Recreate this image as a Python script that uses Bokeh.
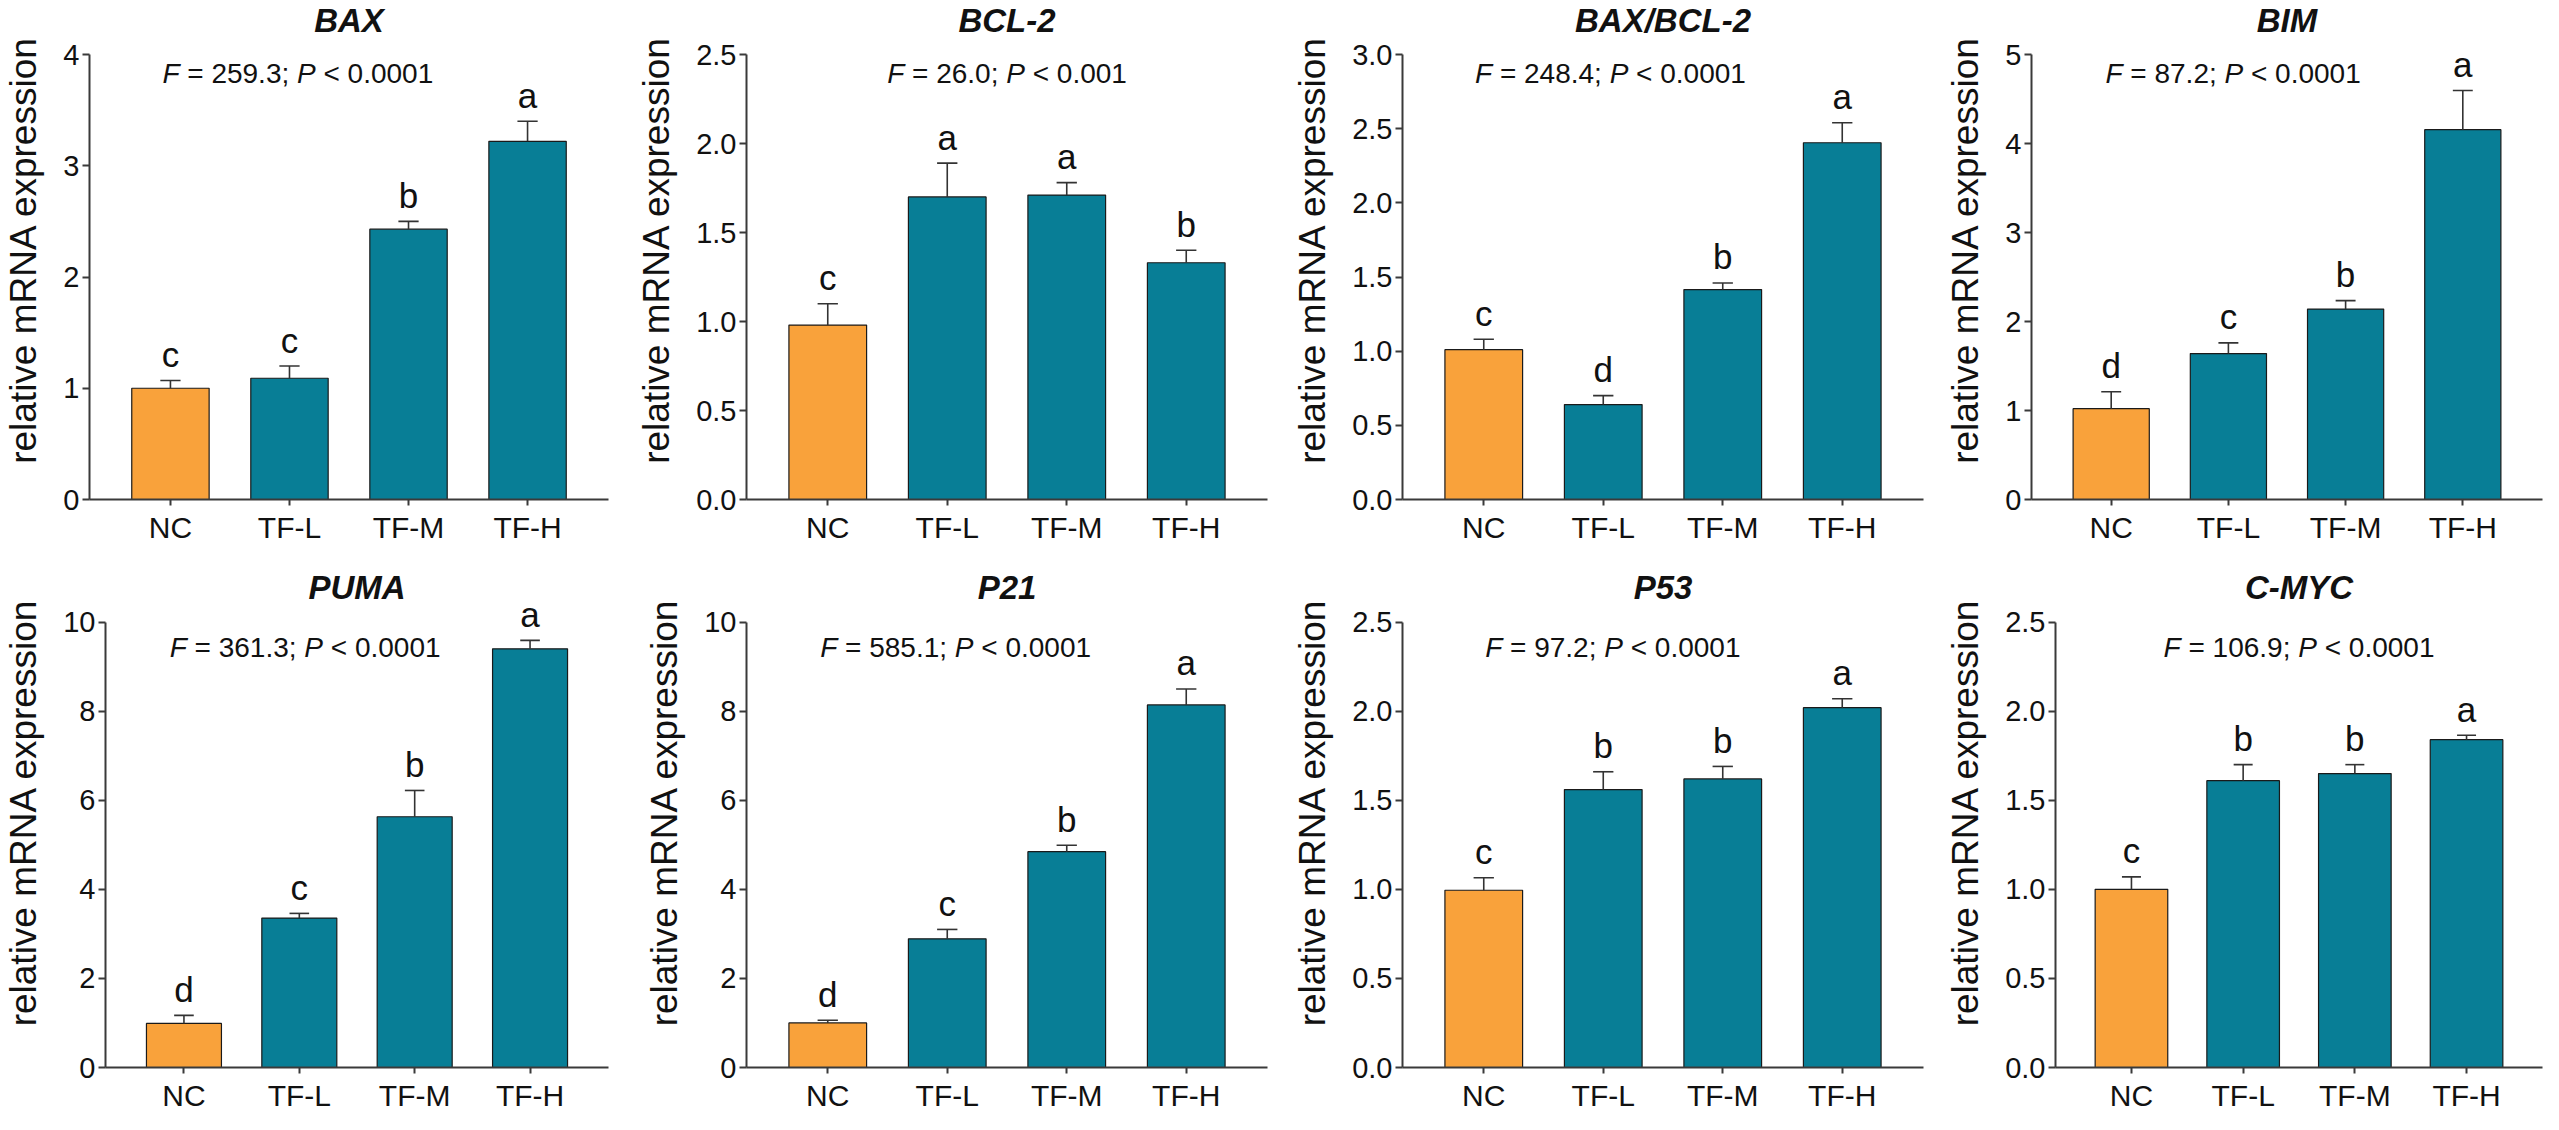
from bokeh.plotting import figure
from bokeh.models import Range1d, FixedTicker, Label, PrintfTickFormatter
from bokeh.layouts import row, column
from bokeh.embed import file_html
from bokeh.resources import INLINE

# ---------------- data ----------------
groups = ["NC", "TF-L", "TF-M", "TF-H"]
genes = ["BAX", "BCL-2", "BAX/BCL-2", "BIM", "PUMA", "P21", "P53", "C-MYC"]

bax_mean = [1.00, 1.09, 2.43, 3.22]
bax_sem = [0.07, 0.11, 0.07, 0.18]
bcl2_mean = [0.98, 1.70, 1.71, 1.33]
bcl2_sem = [0.12, 0.19, 0.07, 0.07]
ratio_mean = [1.01, 0.64, 1.415, 2.405]
ratio_sem = [0.07, 0.06, 0.045, 0.135]
bim_mean = [1.02, 1.64, 2.14, 4.155]
bim_sem = [0.19, 0.12, 0.095, 0.44]
puma_mean = [0.99, 3.355, 5.63, 9.40]
puma_sem = [0.18, 0.105, 0.59, 0.19]
p21_mean = [1.00, 2.89, 4.845, 8.14]
p21_sem = [0.06, 0.21, 0.145, 0.36]
p53_mean = [0.995, 1.56, 1.62, 2.02]
p53_sem = [0.07, 0.10, 0.07, 0.05]
cmyc_mean = [1.00, 1.61, 1.65, 1.84]
cmyc_sem = [0.07, 0.09, 0.05, 0.025]

letters = [
    ["c", "c", "b", "a"],
    ["c", "a", "a", "b"],
    ["c", "d", "b", "a"],
    ["d", "c", "b", "a"],
    ["d", "c", "b", "a"],
    ["d", "c", "b", "a"],
    ["c", "b", "b", "a"],
    ["c", "b", "b", "a"],
]
f_values = ["259.3", "26.0", "248.4", "87.2", "361.3", "585.1", "97.2", "106.9"]
p_values = ["0.0001", "0.001", "0.0001", "0.0001", "0.0001", "0.0001", "0.0001", "0.0001"]
f_xcenter = [1.07, 1.5, 1.06, 1.04, 1.05, 1.07, 1.08, 1.5]
y_max = [4, 2.5, 3.0, 5, 10, 10, 2.5, 2.5]
y_step = [1, 0.5, 0.5, 1, 2, 2, 0.5, 0.5]
y_fmt = ["%d", "%.1f", "%.1f", "%d", "%d", "%d", "%.1f", "%.1f"]

means = [bax_mean, bcl2_mean, ratio_mean, bim_mean, puma_mean, p21_mean, p53_mean, cmyc_mean]
sems = [bax_sem, bcl2_sem, ratio_sem, bim_sem, puma_sem, p21_sem, p53_sem, cmyc_sem]

# ---------------- style ----------------
FONT = "Liberation Sans"
ORANGE = "#F9A23B"
TEAL = "#087E96"
AXIS = "#3a3a3a"

# Arial / Liberation Sans advance widths (1/1000 em)
WID = {" ": 278, "=": 584, "<": 584, ".": 278, ";": 278, "F": 611, "P": 667}


def text_width(s, size):
    return sum(WID.get(c, 556) for c in s) * size / 1000.0


# (figure width, border left, border right)
col_cfg = [(632, 87, 24), (657, 114, 22), (653, 113, 19), (601, 80, 1)]
# (figure height, border top, axis-top offset below frame top, border bottom, F-text offset)
row_cfg = [(555, 0, 54, 56, -19), (559, 2, 65, 44, -25)]

xs = [0, 1, 2, 3]


def make_panel(i):
    r, c = divmod(i, 4)
    fw, bl, br = col_cfg[c]
    fh, bt, gap, bb, f_off = row_cfg[r]
    ymax = y_max[i]
    frame_h = fh - bt - bb
    axis_h = frame_h - gap
    yend = ymax * frame_h / axis_h
    p = figure(width=fw, height=fh, x_range=Range1d(-0.68, 3.68), y_range=Range1d(0, yend),
               output_backend="svg", toolbar_location=None,
               min_border_left=bl, min_border_right=br, min_border_top=bt, min_border_bottom=bb)
    p.outline_line_color = None
    p.grid.visible = False
    p.background_fill_color = "white"
    p.border_fill_color = "white"

    m = means[i]
    s = sems[i]
    tops = [a + b for a, b in zip(m, s)]
    colors = [ORANGE, TEAL, TEAL, TEAL]
    p.vbar(x=xs, top=m, bottom=0, width=0.65, fill_color=colors, line_color="#1a1a1a", line_width=1.2)
    p.segment(x0=xs, y0=m, x1=xs, y1=tops, line_color="#333333", line_width=1.6)
    p.segment(x0=[x - 0.085 for x in xs], y0=tops, x1=[x + 0.085 for x in xs], y1=tops,
              line_color="#333333", line_width=1.6)

    for x, t, lab in zip(xs, tops, letters[i]):
        p.add_layout(Label(x=x, y=t, y_offset=26, text=lab, text_align="center",
                           text_baseline="middle", text_font=FONT, text_font_size="35px",
                           text_color="#111111"))

    # gene title
    p.add_layout(Label(x=1.5, y=ymax, y_offset=34.5, text=genes[i], text_align="center",
                       text_baseline="middle", text_font=FONT, text_font_size="33px",
                       text_font_style="bold italic", text_color="#111111"))

    # F / P statistic line with italic F and P (spaces handled as offsets)
    fs = 28
    pieces = [("F", "italic", " "), ("= " + f_values[i] + ";", "normal", " "), ("P", "italic", " "),
              ("< " + p_values[i], "normal", "")]
    total = sum(text_width(t + tail, fs) for t, _, tail in pieces)
    off = -total / 2.0
    for t, st, tail in pieces:
        p.add_layout(Label(x=f_xcenter[i], y=ymax, x_offset=off, y_offset=f_off, text=t,
                           text_align="left", text_baseline="middle", text_font=FONT,
                           text_font_size="%dpx" % fs, text_font_style=st, text_color="#111111"))
        off += text_width(t + tail, fs)

    # axes
    p.xaxis.ticker = FixedTicker(ticks=xs)
    p.xaxis.major_label_overrides = {x: g for x, g in zip(xs, groups)}
    p.yaxis.ticker = FixedTicker(ticks=[k * y_step[i] for k in range(int(round(ymax / y_step[i])) + 1)])
    p.yaxis.formatter = PrintfTickFormatter(format=y_fmt[i])
    p.yaxis.bounds = (0, ymax)
    p.yaxis.axis_label = "relative mRNA expression"
    for ax in (p.xaxis, p.yaxis):
        ax.axis_line_color = AXIS
        ax.axis_line_width = 2
        ax.major_tick_line_color = AXIS
        ax.major_tick_line_width = 2
        ax.major_tick_in = 0
        ax.minor_tick_line_color = None
        ax.major_label_text_font = FONT
        ax.major_label_text_color = "#111111"
    p.xaxis.major_tick_out = 6
    p.yaxis.major_tick_out = 7
    p.xaxis.major_label_text_font_size = "30px"
    p.yaxis.major_label_text_font_size = "29px"
    p.xaxis.major_label_standoff = 5
    p.yaxis.major_label_standoff = 3
    p.yaxis.axis_label_text_font = FONT
    p.yaxis.axis_label_text_font_size = "37px"
    p.yaxis.axis_label_text_font_style = "normal"
    p.yaxis.axis_label_text_color = "#111111"
    p.yaxis.axis_label_standoff = 16
    return p


panels = [make_panel(i) for i in range(8)]
layout = column(row(*panels[:4]), row(*panels[4:]))

open("out.html", "w").write(file_html(layout, INLINE))
